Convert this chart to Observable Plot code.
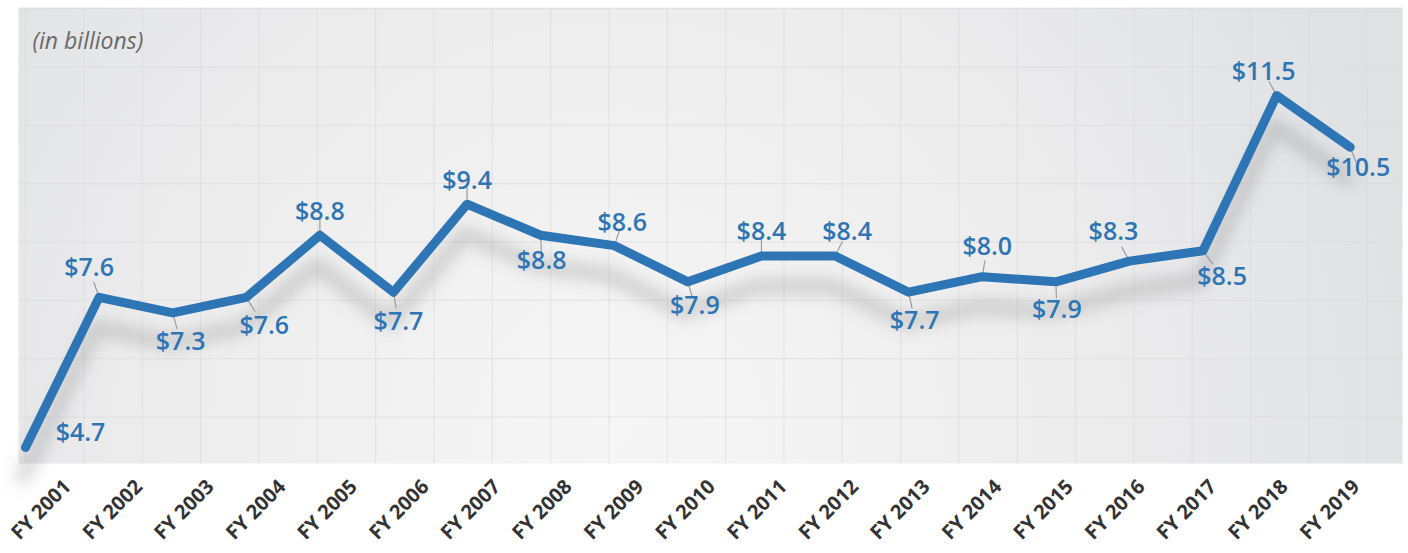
<!DOCTYPE html>
<html>
<head>
<meta charset="utf-8">
<script src="https://cdn.jsdelivr.net/npm/d3@7"></script>
<script src="https://cdn.jsdelivr.net/npm/@observablehq/plot@0.6"></script>
<style>
  html, body { margin: 0; padding: 0; background: #ffffff; }
  #chart { width: 1408px; height: 553px; }
</style>
</head>
<body>
<div id="chart"></div>
<script>
// ---- data ----
const years = ["FY 2001","FY 2002","FY 2003","FY 2004","FY 2005","FY 2006","FY 2007","FY 2008","FY 2009","FY 2010",
               "FY 2011","FY 2012","FY 2013","FY 2014","FY 2015","FY 2016","FY 2017","FY 2018","FY 2019"];
const values = [4.7, 7.6, 7.3, 7.6, 8.8, 7.7, 9.4, 8.8, 8.6, 7.9, 8.4, 8.4, 7.7, 8.0, 7.9, 8.3, 8.5, 11.5, 10.5];
const unitNote = "(in billions)";

// ---- label layout (pixel offsets of each value label from its point) ----
const labelOffsets = [[55,-15],[-10,-29],[8,29],[18,29],[0,-23],[5,30],[0,-23],[1,26],[8,-23],[7,24],
                      [0,-24],[12,-24],[6,29],[5,-30],[1,28],[-16,-29],[19,26],[-13,-24],[8,21]];

const data = years.map((y, i) => ({i, year: y, value: values[i]}));

const blue = "#2e75b6";
const valueFont = "'Open Sans', Lato, sans-serif";

const labelMarks = data.map((d, i) => Plot.text([d], {
  x: "i", y: "value",
  text: d => "$" + d.value.toFixed(1),
  dx: labelOffsets[i][0], dy: labelOffsets[i][1],
  fill: blue, fontSize: 25, fontWeight: 600, fontFamily: valueFont,
  textAnchor: "middle", lineAnchor: "middle"
}));

const tickLabelMarks = data.map((d, i) => Plot.text([d], {
  x: "i", frameAnchor: "bottom", text: "year", rotate: -45,
  dx: 42 - 2 * i, dy: 20,
  textAnchor: "end", lineAnchor: "middle", fontSize: 20, fontWeight: "bold",
  fontFamily: "'Open Sans', sans-serif", fill: "#333335"
}));

const spike = {draw(context, l) { context.moveTo(0, 0); context.lineTo(0, -l); }};
function leaderMarks() {
  return data.slice(1).map((d) => {
    const [ox, oy] = labelOffsets[d.i];
    const ang = Math.atan2(ox, -oy) * 180 / Math.PI;
    return Plot.vector([d], {x: "i", y: "value", length: 16, rotate: ang, anchor: "start",
      shape: spike, stroke: "#9b9b9b", strokeWidth: 1.2});
  });
}

function build(withLeaders) {
  return Plot.plot({
    width: 1408,
    height: 553,
    marginLeft: 18,
    marginRight: 6,
    marginTop: 7,
    marginBottom: 90,
    style: {background: "transparent", overflow: "visible"},
    x: {type: "linear", domain: [-0.095, 18.71], axis: null},
    y: {type: "linear", domain: [4.391, 13.2], axis: null},
    length: {type: "identity"},
    marks: [
      Plot.frame({fill: "url(#bgGrad)", stroke: "none"}),
      Plot.frame({fill: "url(#gridPat)", stroke: "none"}),
      Plot.text([unitNote], {frameAnchor: "top-left", dx: 14, dy: 25, fontSize: 23, fontStyle: "italic",
        fontWeight: 500, fontFamily: valueFont, fill: "#69696b", textAnchor: "start", lineAnchor: "top"}),
      Plot.line(data, {x: "i", y: "value", stroke: "#6f6f6f", strokeWidth: 14, strokeOpacity: 0.3,
        dy: 30, dx: -3}),
      ...(withLeaders ? leaderMarks() : []),
      Plot.line(data, {x: "i", y: "value", stroke: blue, strokeWidth: 9,
        strokeLinecap: "round", strokeLinejoin: "round"}),
      ...labelMarks,
      ...tickLabelMarks
    ]
  });
}

let chart;
try { chart = build(true); } catch (e) { chart = build(false); }

// defs: background gradient, grid pattern, shadow blur
const ns = "http://www.w3.org/2000/svg";
const defs = document.createElementNS(ns, "defs");
defs.innerHTML = `
  <radialGradient id="bgGrad" gradientUnits="userSpaceOnUse" cx="620" cy="430" r="820">
    <stop offset="0" stop-color="#f6f6f6"/>
    <stop offset="0.55" stop-color="#ededee"/>
    <stop offset="1" stop-color="#e0e1e3"/>
  </radialGradient>
  <pattern id="gridPat" patternUnits="userSpaceOnUse" x="24.67" y="7.67" width="58.33" height="58.33">
    <path d="M0,0 H58.33 M0,0 V58.33" stroke="#d8d8da" stroke-width="1.5" fill="none" opacity="0.85"/>
  </pattern>
  <filter id="blurShadow" x="-10%" y="-60%" width="120%" height="220%">
    <feGaussianBlur stdDeviation="8"/>
  </filter>`;
chart.insertBefore(defs, chart.firstChild);
const lines = chart.querySelectorAll('g[aria-label="line"]');
if (lines.length) lines[0].setAttribute("filter", "url(#blurShadow)");

document.getElementById("chart").appendChild(chart);
</script>
</body>
</html>
